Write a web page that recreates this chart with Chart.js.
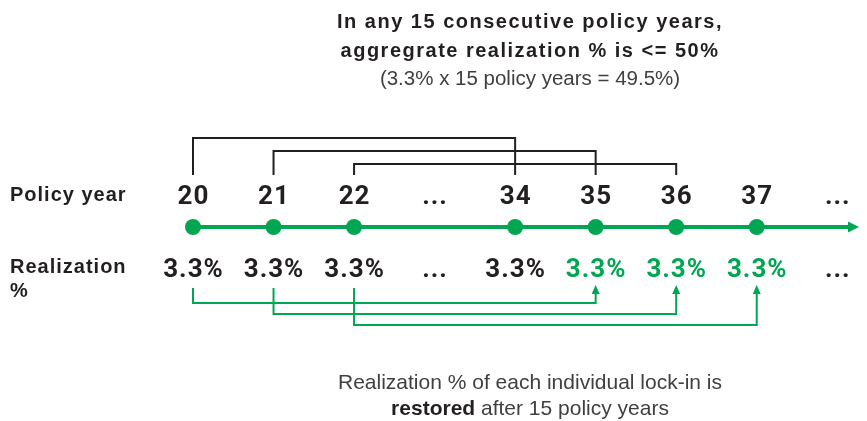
<!DOCTYPE html>
<html>
<head>
<meta charset="utf-8">
<script src="https://cdn.jsdelivr.net/npm/chart.js@4.4.1/dist/chart.umd.min.js"></script>
<style>
  html, body { margin: 0; padding: 0; background: #fff; }
  #wrap { width: 867px; height: 421px; position: relative; }
</style>
</head>
<body>
<div id="wrap"><canvas id="myChart"></canvas></div>
<script>
// categories along the timeline ('...' = skipped years)
const years = ['20', '21', '22', '...', '34', '35', '36', '37', '...'];
const realization = ['3.3%', '3.3%', '3.3%', '...', '3.3%', '3.3%', '3.3%', '3.3%', '...'];
const restored = [false, false, false, false, false, true, true, true, false];
// 15-year windows (black brackets) and restore links (green arrows)
const windows15 = [['20', '34'], ['21', '35'], ['22', '36']];
const restoreLinks = [['20', '35'], ['21', '36'], ['22', '37']];

const titleLines = ['In any 15 consecutive policy years,', 'aggregrate realization % is <= 50%'];
const subtitleLine = '(3.3% x 15 policy years = 49.5%)';
const footLine1 = 'Realization % of each individual lock-in is';
const footBold = 'restored';
const footRest = ' after 15 policy years';

const green = '#00a651';
const ink = '#231f20';
const grey = '#404040';
const narrow = "'Roboto', 'Liberation Sans', sans-serif";
const sans = "'Liberation Sans', 'Arial', sans-serif";

// the timeline runs a little past the last category, to the arrow tip
const tailX = years.length - 1 + 0.27;
const timeline = years.map((y, i) => ({ x: i, y: 0 })).concat([{ x: tailX - 0.1, y: 0 }]);
const pointRadius = years.map(y => y === '...' ? 0 : 8).concat([0]);

const diagram = {
  id: 'diagram',
  afterDatasetsDraw(chart) {
    const ctx = chart.ctx;
    const xs = chart.scales.x, ys = chart.scales.y;
    const px = lbl => xs.getPixelForValue(years.indexOf(lbl));
    const ly = ys.getPixelForValue(0);
    ctx.save();

    // arrow head at end of timeline
    const endX = xs.getPixelForValue(tailX);
    ctx.fillStyle = green;
    ctx.beginPath();
    ctx.moveTo(endX, ly);
    ctx.lineTo(endX - 11, ly - 5.5);
    ctx.lineTo(endX - 11, ly + 5.5);
    ctx.closePath();
    ctx.fill();

    // year labels
    ctx.textAlign = 'center';
    ctx.textBaseline = 'alphabetic';
    ctx.fillStyle = ink;
    ctx.font = "bold 26px " + narrow;
    ctx.letterSpacing = '1px';
    years.forEach((y, i) => {
      ctx.fillText(y, xs.getPixelForValue(i) + 0.5, ly - 23);
    });

    // realization labels
    realization.forEach((r, i) => {
      ctx.fillStyle = restored[i] ? green : ink;
      ctx.fillText(r, xs.getPixelForValue(i) + 0.5, ly + 50);
    });

    // row labels
    ctx.textAlign = 'left';
    ctx.fillStyle = ink;
    ctx.font = "bold 20px " + sans;
    ctx.letterSpacing = '1px';
    ctx.fillText('Policy year', 10, ly - 26);
    ctx.fillText('Realization', 10, ly + 46);
    ctx.fillText('%', 10, ly + 70);

    // black 15-year brackets
    ctx.strokeStyle = ink;
    ctx.lineWidth = 2;
    windows15.forEach((w, k) => {
      const top = ly - 89 + k * 13;
      ctx.beginPath();
      ctx.moveTo(px(w[0]), ly - 52);
      ctx.lineTo(px(w[0]), top);
      ctx.lineTo(px(w[1]), top);
      ctx.lineTo(px(w[1]), ly - 52);
      ctx.stroke();
    });

    // green restore arrows
    ctx.strokeStyle = green;
    ctx.fillStyle = green;
    ctx.lineWidth = 2;
    restoreLinks.forEach((l, k) => {
      const bottom = ly + 76 + k * 11;
      const x0 = px(l[0]), x1 = px(l[1]);
      ctx.beginPath();
      ctx.moveTo(x0, ly + 61);
      ctx.lineTo(x0, bottom);
      ctx.lineTo(x1, bottom);
      ctx.lineTo(x1, ly + 66);
      ctx.stroke();
      ctx.beginPath();
      ctx.moveTo(x1, ly + 58);
      ctx.lineTo(x1 - 4, ly + 67);
      ctx.lineTo(x1 + 4, ly + 67);
      ctx.closePath();
      ctx.fill();
    });

    // title and footnote
    const cx = 530;
    ctx.textAlign = 'center';
    ctx.fillStyle = ink;
    ctx.font = "bold 20px " + sans;
    ctx.letterSpacing = '1.5px';
    ctx.fillText(titleLines[0], cx, 28);
    ctx.fillText(titleLines[1], cx, 57);
    ctx.letterSpacing = '0px';
    ctx.fillStyle = grey;
    ctx.font = "20.5px " + sans;
    ctx.fillText(subtitleLine, cx, 85);
    ctx.font = "21px " + sans;
    ctx.fillText(footLine1, cx, 389);

    ctx.font = "bold 21px " + sans;
    const wb = ctx.measureText(footBold).width;
    ctx.font = "21px " + sans;
    const wr = ctx.measureText(footRest).width;
    const sx = cx - (wb + wr) / 2;
    ctx.textAlign = 'left';
    ctx.fillStyle = ink;
    ctx.font = "bold 21px " + sans;
    ctx.fillText(footBold, sx, 415);
    ctx.fillStyle = grey;
    ctx.font = "21px " + sans;
    ctx.fillText(footRest, sx + wb, 415);

    ctx.restore();
  }
};

const config = {
  type: 'scatter',
  data: {
    datasets: [{
      label: 'Policy year',
      data: timeline,
      showLine: true,
      borderColor: green,
      borderWidth: 4,
      backgroundColor: green,
      pointBackgroundColor: green,
      pointBorderWidth: 0,
      pointRadius: pointRadius,
      pointHoverRadius: pointRadius,
      clip: false
    }]
  },
  options: {
    responsive: true,
    maintainAspectRatio: false,
    animation: false,
    events: [],
    layout: { padding: { left: 193, right: 7, top: 207, bottom: 174 } },
    scales: {
      x: { type: 'linear', min: 0, max: tailX, display: false },
      y: { min: -1, max: 1, display: false }
    },
    plugins: {
      legend: { display: false },
      tooltip: { enabled: false }
    }
  },
  plugins: [diagram]
};

var myChart = new Chart(document.getElementById('myChart'), config);
</script>
</body>
</html>
